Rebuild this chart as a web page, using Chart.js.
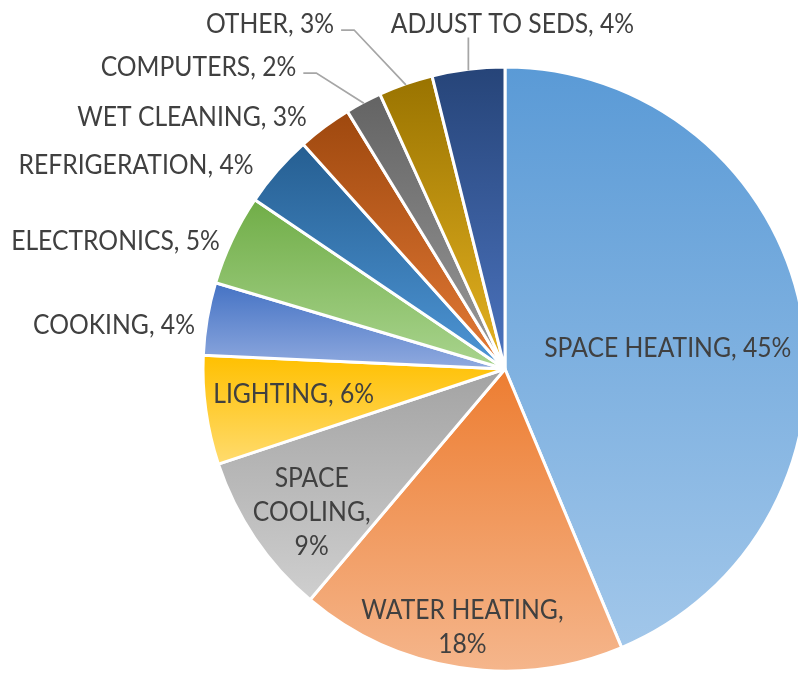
<!DOCTYPE html>
<html>
<head>
<meta charset="utf-8">
<title>Energy use by end use</title>
<script src="https://cdn.jsdelivr.net/npm/chart.js@4.4.0/dist/chart.umd.min.js"></script>
<style>
    html, body { margin: 0; padding: 0; background: #fff; overflow: hidden; }
    #wrap { position: relative; width: 830px; height: 673px; }
</style>
</head>
<body>
<div id="wrap"><canvas id="pie"></canvas></div>
<script>
// end uses, clockwise from 12 o'clock
var categories = ['SPACE HEATING', 'WATER HEATING', 'SPACE COOLING', 'LIGHTING', 'COOKING',
    'ELECTRONICS', 'REFRIGERATION', 'WET CLEANING', 'COMPUTERS', 'OTHER', 'ADJUST TO SEDS'];
var shares = [45, 18, 9, 6, 4, 5, 4, 3, 2, 3, 4];

// each slice fades from the top colour to the bottom one
var topColors = ['#5A9AD6', '#ED7D31', '#A3A3A3', '#FFC000', '#4472C4', '#70AD47',
    '#255E91', '#9E480E', '#636363', '#997300', '#264478'];
var bottomColors = ['#A2C7EA', '#F5B68C', '#CFCFCF', '#FFDB6E', '#90AADF', '#A9D48E',
    '#4E96D6', '#E47A36', '#9A9A9A', '#E6B322', '#4C74BF'];

var FONT = '26px Lato';
var SQUEEZE = 0.95;   // Lato runs a bit wider than the usual office font
var TEXT = '#404040';
var LINE_H = 34;

// where each label sits: 'in' = along the slice's mid angle, 'out' = offset from the pie centre
var labelLayout = [
    { place: 'in', dist: 0.543, nx: 2, ny: 11, lines: ['SPACE HEATING, 45%'] },
    { place: 'in', dist: 0.864, nx: -3, ny: 0, lines: ['WATER HEATING,', '18%'] },
    { place: 'in', dist: 0.793, nx: 5, ny: 8, lines: ['SPACE', 'COOLING,', '9%'] },
    { place: 'in', dist: 0.703, nx: -1, ny: -5, lines: ['LIGHTING, 6%'] },
    { place: 'out', dx: -391, dy: -44.5 },
    { place: 'out', dx: -389.5, dy: -129 },
    { place: 'out', dx: -369, dy: -205 },
    { place: 'out', dx: -313, dy: -252.5 },
    { place: 'out', dx: -306.5, dy: -302.5, leader: 'elbow' },
    { place: 'out', dx: -235, dy: -345.5, leader: 'elbow' },
    { place: 'out', dx: 7.5, dy: -345.5, leader: 'down' }
];

function sum(arr) {
    return arr.reduce(function (a, b) { return a + b; }, 0);
}

function sliceGradient(ctx) {
    var chart = ctx.chart;
    var area = chart.chartArea;
    var i = ctx.dataIndex;
    if (!area) return topColors[i];
    var total = sum(shares);
    var a0 = -Math.PI / 2 + sum(shares.slice(0, i)) / total * 2 * Math.PI;
    var a1 = a0 + shares[i] / total * 2 * Math.PI;
    var cy = (area.top + area.bottom) / 2;
    var r = Math.min(area.right - area.left, area.bottom - area.top) / 2;
    var ys = [cy, cy + r * Math.sin(a0), cy + r * Math.sin(a1)];
    [-Math.PI / 2, Math.PI / 2, 3 * Math.PI / 2].forEach(function (a) {
        if (a >= a0 && a <= a1) ys.push(cy + r * Math.sin(a));
    });
    var g = chart.ctx.createLinearGradient(0, Math.min.apply(null, ys), 0, Math.max.apply(null, ys));
    g.addColorStop(0, topColors[i]);
    g.addColorStop(1, bottomColors[i]);
    return g;
}

function drawText(c, t, x, y) {
    c.save();
    c.translate(x, y);
    c.scale(SQUEEZE, 1);
    c.fillText(t, 0, 0);
    c.restore();
}

var pieLabels = {
    id: 'pieLabels',
    afterDatasetsDraw: function (chart) {
        var c = chart.ctx;
        var arcs = chart.getDatasetMeta(0).data;
        c.save();
        c.font = FONT;
        c.fillStyle = TEXT;
        c.textAlign = 'center';
        c.textBaseline = 'alphabetic';
        arcs.forEach(function (arc, i) {
            var lay = labelLayout[i];
            var mid = (arc.startAngle + arc.endAngle) / 2;
            var lines = lay.lines || [categories[i] + ', ' + shares[i] + '%'];
            var x, y;
            if (lay.place === 'in') {
                x = arc.x + Math.cos(mid) * arc.outerRadius * lay.dist + lay.nx;
                y = arc.y + Math.sin(mid) * arc.outerRadius * lay.dist + lay.ny;
            } else {
                x = arc.x + lay.dx;
                y = arc.y + lay.dy;
            }
            var top = y - (lines.length - 1) * LINE_H / 2;
            lines.forEach(function (t, k) {
                drawText(c, t, x, top + k * LINE_H + 9.5);
            });

            if (lay.leader) {
                var ex = arc.x + Math.cos(mid) * (arc.outerRadius - 1);
                var ey = arc.y + Math.sin(mid) * (arc.outerRadius - 1);
                c.beginPath();
                c.strokeStyle = '#A6A6A6';
                c.lineWidth = 1.75;
                if (lay.leader === 'elbow') {
                    var w = c.measureText(lines[0]).width * SQUEEZE;
                    var sx = x + w / 2 + 7;
                    var sy = y + 6.5;
                    c.moveTo(sx, sy);
                    c.lineTo(sx + 13, sy);
                    c.lineTo(ex, ey);
                } else {
                    c.moveTo(ex, y + 14);
                    c.lineTo(ex, ey);
                }
                c.stroke();
            }
        });
        c.restore();
    }
};

var ctx = document.getElementById('pie').getContext('2d');
var myChart = new Chart(ctx, {
    type: 'pie',
    data: {
        labels: categories,
        datasets: [{
            data: shares,
            backgroundColor: sliceGradient,
            borderColor: '#fff',
            borderWidth: 3
        }]
    },
    options: {
        responsive: true,
        maintainAspectRatio: false,
        animation: false,
        layout: {
            padding: { left: 201.5, right: 21.5, top: 65.5, bottom: 0.5 }
        },
        plugins: {
            legend: { display: false },
            tooltip: { enabled: false }
        }
    },
    plugins: [pieLabels]
});
</script>
</body>
</html>
